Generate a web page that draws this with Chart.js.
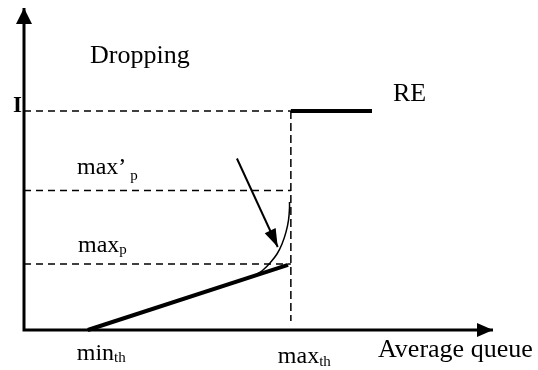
<!DOCTYPE html>
<html>
<head>
<meta charset="utf-8">
<script src="https://cdn.jsdelivr.net/npm/chart.js@4/dist/chart.umd.min.js"></script>
<style>
  html, body { margin: 0; padding: 0; background: #fff; }
  canvas { display: block; }
</style>
</head>
<body>
<canvas id="c" width="538" height="370"></canvas>
<script>
// ---- data ----
const xRange = [0, 100];           // average queue axis
const yRange = [0, 1.47];          // dropping probability axis
const thresholds = [13.6, 56.9];   // min_th, max_th
const levelNames = ["I", "max’p", "maxp"];
const levelValues = [1.0, 0.637, 0.301];
const redX = [13.6, 56.3];         // RED linear ramp
const redY = [0, 0.297];
const reX = [56.9, 74.2];          // "RE" flat segment at 1
const reY = [1.0, 1.0];
const curveX = [49.7, 50.96, 52.45, 53.94, 55.01, 55.86, 56.4, 56.61, 56.61];
const curveY = [0.256, 0.274, 0.306, 0.347, 0.393, 0.447, 0.502, 0.557, 0.584];
const arrowX = [45.4, 54.1];
const arrowY = [0.783, 0.379];
const vDashBottom = 0.041;

const pts = (xs, ys) => xs.map((x, i) => ({ x, y: ys[i] }));
const dash = [7, 5];

const datasets = [
  // axes
  { data: [{x: 0, y: yRange[1]}, {x: 0, y: 0}, {x: xRange[1], y: 0}], borderWidth: 3, borderJoinStyle: 'miter' },
  // horizontal dashed levels
  ...levelValues.map(v => ({ data: [{x: 0, y: v}, {x: thresholds[1], y: v}], borderWidth: 1.5, borderDash: dash })),
  // vertical dashed at max_th
  { data: [{x: thresholds[1], y: levelValues[0]}, {x: thresholds[1], y: vDashBottom}], borderWidth: 1.5, borderDash: [8, 4] },
  // RED ramp (thick)
  { data: pts(redX, redY), borderWidth: 4 },
  // RE flat
  { data: pts(reX, reY), borderWidth: 4 },
  // curve
  { data: pts(curveX, curveY), borderWidth: 1.5, tension: 0.4 },
  // diagonal arrow shaft
  { data: pts(arrowX, arrowY), borderWidth: 2 }
].map(d => Object.assign({ borderColor: '#000', pointRadius: 0, showLine: true, fill: false, clip: false, tension: d.tension || 0 }, d));

function head(ctx, tx, ty, fx, fy, len, hw) {
  const a = Math.atan2(ty - fy, tx - fx);
  const bx = tx - len * Math.cos(a), by = ty - len * Math.sin(a);
  const nx = -Math.sin(a), ny = Math.cos(a);
  ctx.beginPath();
  ctx.moveTo(tx, ty);
  ctx.lineTo(bx + nx * hw, by + ny * hw);
  ctx.lineTo(bx - nx * hw, by - ny * hw);
  ctx.closePath();
  ctx.fill();
}

function stext(ctx, t, x, y, size, bold, sx) {
  ctx.save();
  ctx.font = (bold ? 'bold ' : '') + size + 'px "Liberation Serif", "Times New Roman", serif';
  ctx.translate(x, y);
  ctx.scale(sx || 1, 1);
  ctx.fillText(t, 0, 0);
  const w = ctx.measureText(t).width * (sx || 1);
  ctx.restore();
  return w;
}
function subText(ctx, main, sub, x, y, size, subSize, dy, gap) {
  const w = stext(ctx, main, x, y, size);
  stext(ctx, sub, x + w + (gap || 0), y + dy, subSize);
}

const overlay = {
  id: 'overlay',
  afterDatasetsDraw(chart) {
    const ctx = chart.ctx;
    const xs = chart.scales.x, ys = chart.scales.y;
    const X = v => xs.getPixelForValue(v), Y = v => ys.getPixelForValue(v);
    ctx.save();
    ctx.fillStyle = '#000';
    // axis arrowheads
    head(ctx, X(0), Y(yRange[1]), X(0), Y(0), 16, 8);
    head(ctx, X(xRange[1]), Y(0), X(0), Y(0), 16, 7);
    // diagonal arrowhead
    head(ctx, X(arrowX[1]), Y(arrowY[1]), X(arrowX[0]), Y(arrowY[0]), 18, 6);
    // labels
    ctx.textBaseline = 'alphabetic';
    stext(ctx, 'Dropping', X(0) + 66, 63, 26);
    stext(ctx, levelNames[0], X(0) - 11, Y(levelValues[0]) + 1, 23, true);
    stext(ctx, 'RE', X(reX[1]) + 21, Y(reY[1]) - 10, 26);
    subText(ctx, 'max’', 'p', X(0) + 53, Y(levelValues[1]) - 16, 24, 15, 6, 4);
    subText(ctx, 'max', 'p', X(0) + 54, Y(levelValues[2]) - 12, 24, 15, 2, 0);
    subText(ctx, 'min', 'th', X(thresholds[0]) - 11, Y(0) + 30, 24, 15, 2, 0);
    subText(ctx, 'max', 'th', X(thresholds[1]) - 13, Y(0) + 33, 24, 15, 3, 0);
    stext(ctx, 'Average queue', X(xRange[1]) - 115, Y(0) + 27, 26);
    ctx.restore();
  }
};

new Chart(document.getElementById('c'), {
  type: 'scatter',
  data: { datasets },
  options: {
    responsive: false,
    animation: false,
    events: [],
    layout: { padding: { left: 24, right: 45, top: 8, bottom: 40 } },
    plugins: { legend: { display: false }, tooltip: { enabled: false } },
    scales: {
      x: { type: 'linear', min: xRange[0], max: xRange[1], display: false },
      y: { type: 'linear', min: yRange[0], max: yRange[1], display: false }
    }
  },
  plugins: [overlay]
});
</script>
</body>
</html>
